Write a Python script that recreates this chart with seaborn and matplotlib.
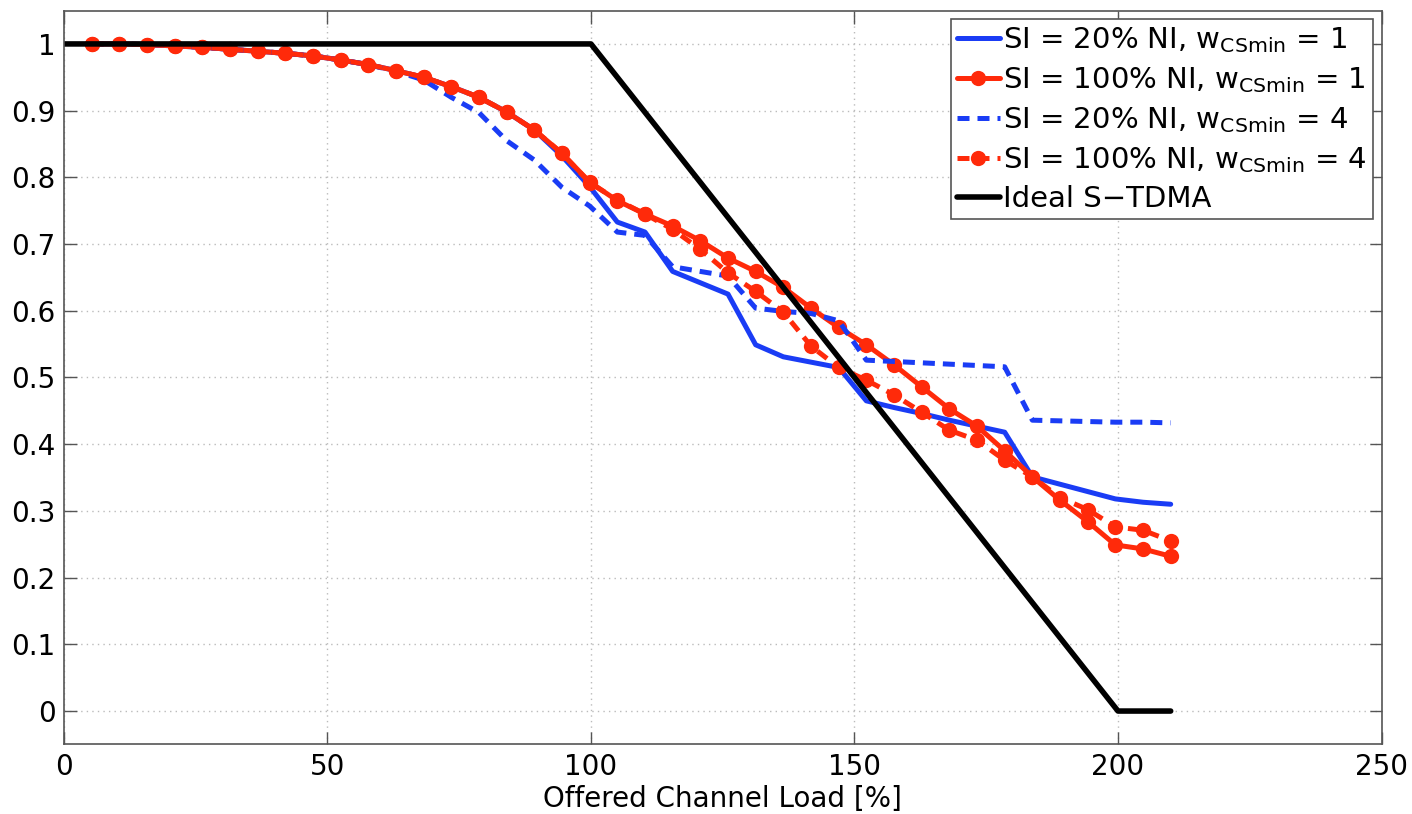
import numpy as np
import pandas as pd
import matplotlib
matplotlib.use("Agg")
import matplotlib.pyplot as plt
import seaborn as sns

# offered channel load [%]
load = [5.25, 10.5, 15.75, 21, 26.25, 31.5, 36.75, 42, 47.25, 52.5,
        57.75, 63, 68.25, 73.5, 78.75, 84, 89.25, 94.5, 99.75, 105,
        110.25, 115.5, 120.75, 126, 131.25, 136.5, 141.75, 147, 152.25, 157.5,
        162.75, 168, 173.25, 178.5, 183.75, 189, 194.25, 199.5, 204.75, 210]

# SI = 20% NI, w = 1
si20_w1 = [1.0, 1.0, 0.999, 0.997, 0.995, 0.992, 0.989, 0.986, 0.982, 0.976,
           0.969, 0.960, 0.950, 0.936, 0.920, 0.898, 0.871, 0.832, 0.786, 0.733,
           0.718, 0.659, 0.642, 0.625, 0.549, 0.531, 0.523, 0.515, 0.465, 0.455,
           0.446, 0.436, 0.427, 0.418, 0.351, 0.340, 0.329, 0.318, 0.313, 0.310]

# SI = 100% NI, w = 1
si100_w1 = [1.0, 1.0, 0.999, 0.997, 0.995, 0.992, 0.989, 0.986, 0.982, 0.976,
            0.969, 0.960, 0.950, 0.936, 0.920, 0.898, 0.871, 0.836, 0.793, 0.765,
            0.745, 0.727, 0.705, 0.679, 0.659, 0.635, 0.604, 0.575, 0.549, 0.519,
            0.486, 0.453, 0.427, 0.390, 0.351, 0.316, 0.284, 0.249, 0.243, 0.232]

# SI = 20% NI, w = 4
si20_w4 = [1.0, 1.0, 0.999, 0.997, 0.995, 0.992, 0.989, 0.986, 0.982, 0.976,
           0.969, 0.959, 0.946, 0.920, 0.897, 0.855, 0.826, 0.785, 0.757, 0.718,
           0.713, 0.666, 0.659, 0.652, 0.604, 0.599, 0.596, 0.585, 0.526, 0.524,
           0.522, 0.520, 0.518, 0.516, 0.436, 0.435, 0.434, 0.433, 0.433, 0.432]

# SI = 100% NI, w = 4
si100_w4 = [1.0, 1.0, 0.999, 0.997, 0.995, 0.992, 0.989, 0.986, 0.982, 0.976,
            0.969, 0.960, 0.950, 0.936, 0.920, 0.898, 0.871, 0.836, 0.792, 0.766,
            0.745, 0.722, 0.692, 0.657, 0.629, 0.598, 0.547, 0.515, 0.496, 0.474,
            0.448, 0.421, 0.406, 0.376, 0.351, 0.320, 0.302, 0.276, 0.271, 0.255]

# ideal S-TDMA
ideal_x = [0, 100, 200, 210]
ideal_y = [1, 1, 0, 0]

labels = [r"SI = 20% NI, w$_{\mathrm{CSmin}}$ = 1",
          r"SI = 100% NI, w$_{\mathrm{CSmin}}$ = 1",
          r"SI = 20% NI, w$_{\mathrm{CSmin}}$ = 4",
          r"SI = 100% NI, w$_{\mathrm{CSmin}}$ = 4",
          "Ideal S\u2212TDMA"]

blue = "#1a3cf5"
red = "#ff2a0a"

sns.set_style("white")
plt.rcParams["font.family"] = ["DejaVu Sans"]
plt.rcParams["mathtext.fontset"] = "dejavusans"
plt.rcParams["text.color"] = "black"
plt.rcParams["axes.labelcolor"] = "black"

fig = plt.figure(figsize=(14.12, 8.14), dpi=100)
ax = fig.add_axes([0.0453, 0.0855, 0.9331, 0.9015])

lw = 3.6
sns.lineplot(x=load, y=si20_w1, ax=ax, color=blue, linewidth=lw, label=labels[0])
sns.lineplot(x=load, y=si100_w1, ax=ax, color=red, linewidth=lw, marker="o",
             markersize=11, markeredgewidth=0, markeredgecolor=red, label=labels[1])
sns.lineplot(x=load, y=si20_w4, ax=ax, color=blue, linewidth=lw,
             linestyle=(0, (2.4, 1.6)), label=labels[2])
sns.lineplot(x=load, y=si100_w4, ax=ax, color=red, linewidth=lw,
             linestyle=(0, (2.4, 1.6)), marker="o", markersize=11,
             markeredgewidth=0, markeredgecolor=red, label=labels[3])
sns.lineplot(x=ideal_x, y=ideal_y, ax=ax, color="black", linewidth=4, label=labels[4])

ax.set_xlim(0, 250)
ax.set_ylim(-0.05, 1.05)
ax.set_xticks([0, 50, 100, 150, 200, 250])
ax.set_yticks(np.round(np.arange(0, 1.01, 0.1), 1))
ax.set_yticklabels(["0", "0.1", "0.2", "0.3", "0.4", "0.5", "0.6", "0.7", "0.8", "0.9", "1"])
ax.grid(True, linestyle=(0, (1, 3)), color="#bbbbbb", linewidth=1)
ax.tick_params(direction="in", length=9, width=1, colors="#555555",
               labelcolor="black", labelsize=20, top=True, right=True,
               left=True, bottom=True, pad=6)
for s in ax.spines.values():
    s.set_color("#555555")
    s.set_linewidth(1.2)

ax.set_xlabel("Offered Channel Load [%]", fontsize=20, labelpad=3)
ax.set_ylabel("")

leg = ax.legend(loc="upper right", fontsize=21, frameon=True, fancybox=False,
                edgecolor="#555555", framealpha=1, handlelength=1.5,
                handletextpad=0.1, borderaxespad=0.3, labelspacing=0.35,
                borderpad=0.2)
leg.get_frame().set_linewidth(1.2)

fig.savefig("out.png", dpi=100)
